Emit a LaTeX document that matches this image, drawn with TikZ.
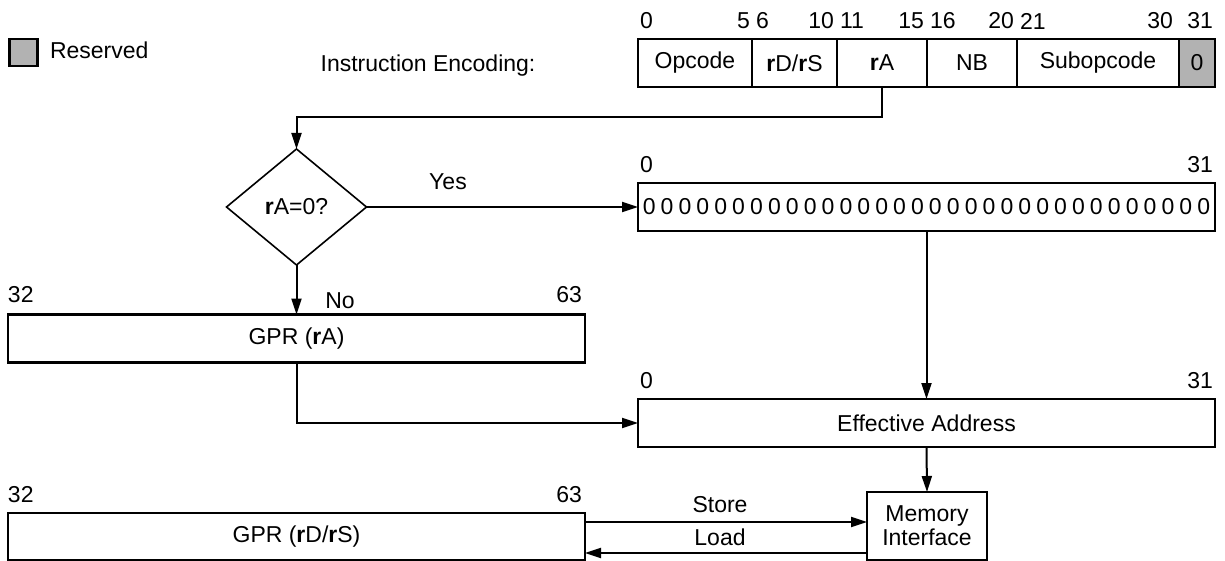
\documentclass[tikz,border=0pt]{standalone}
\usepackage{fontspec}
\setmainfont{Liberation Sans}
\usetikzlibrary{arrows.meta,shapes.geometric,calc}
\definecolor{resgray}{gray}{0.7}
\newcommand\zerodig{0\hspace{5.1pt}}
\tikzset{
  base/.style={font=\fontsize{23}{24}\selectfont, inner sep=0pt, outer sep=0pt},
  fieldbox/.style={base, draw, line width=2.2pt, minimum height=48pt},
  regbox/.style={base, draw, line width=2.4pt, minimum height=48pt},
  lbl/.style={base},
  conn/.style={line width=2pt},
  arr/.style={conn, -{Triangle[length=16pt,width=10pt]}},
  decision/.style={base, draw, diamond, line width=1.6pt, minimum width=140pt, minimum height=116pt},
}
\begin{document}
\begin{tikzpicture}[x=1pt,y=-1pt]
\useasboundingbox (0,0) rectangle (1225,561);
% legend
\node[base, draw, fill=resgray, line width=2.2pt, minimum width=28pt, minimum height=27pt] (resbox) at (23.5,52.5) {};
\node[lbl, anchor=west] (restxt) at (50,50) {Reserved};
\node[lbl] (enctxt) at (428,66) {Instruction Encoding:};
% encoding fields
\node[fieldbox, minimum width=114pt] (fOp) at (695,63) {Opcode};
\node[fieldbox, minimum width=85pt] (fD) at (794.5,63) {\textbf{r}D/\textbf{r}S};
\node[fieldbox, minimum width=90pt] (fA) at (882,63) {\textbf{r}A};
\node[fieldbox, minimum width=90pt] (fNB) at (972,63) {NB};
\node[fieldbox, minimum width=162pt] (fSub) at (1098,63) {Subopcode};
\node[fieldbox, fill=resgray, minimum width=36pt] (fRes) at (1197,63) {0};
% bit labels
\node[lbl, anchor=west] (b0) at (640,21) {0};
\node[lbl, anchor=east] (b5) at (750,21) {5};
\node[lbl, anchor=west] (b6) at (756,21) {6};
\node[lbl, anchor=east] (b10) at (834,21) {10};
\node[lbl, anchor=west] (b11) at (840,21) {11};
\node[lbl, anchor=east] (b15) at (924,21) {15};
\node[lbl, anchor=west] (b16) at (930,21) {16};
\node[lbl, anchor=east] (b20) at (1014,21) {20};
\node[lbl, anchor=west] (b21) at (1020,21) {21};
\node[lbl, anchor=east] (b30) at (1173,21) {30};
\node[lbl, anchor=east] (b31) at (1213,21) {31};
% decision
\node[decision] (dec) at (296.5,207) {\textbf{r}A=0?};
\node[lbl] (yes) at (448,182) {Yes};
\node[lbl] (no) at (340,301) {No};
% zero register
\node[regbox, minimum width=577pt] (zero) at (926.5,207) {\zerodig\zerodig\zerodig\zerodig\zerodig\zerodig\zerodig\zerodig\zerodig\zerodig\zerodig\zerodig\zerodig\zerodig\zerodig\zerodig\zerodig\zerodig\zerodig\zerodig\zerodig\zerodig\zerodig\zerodig\zerodig\zerodig\zerodig\zerodig\zerodig\zerodig\zerodig 0};
\node[lbl, anchor=west] (z0) at (640,165) {0};
\node[lbl, anchor=east] (z31) at (1213,165) {31};
% GPR rA
\node[regbox, minimum width=577pt] (gprA) at (296.5,338.5) {GPR (\textbf{r}A)};
\node[lbl, anchor=west] (a32) at (8,295) {32};
\node[lbl, anchor=east] (a63) at (582,295) {63};
% EA
\node[regbox, minimum width=577pt] (ea) at (926.5,423) {Effective Address};
\node[lbl, anchor=west] (e0) at (640,381) {0};
\node[lbl, anchor=east] (e31) at (1213,381) {31};
% memory interface
\node[regbox, minimum width=120pt, minimum height=68pt, align=center] (mi) at (927,526) {Memory\\Interface};
% GPR rD/rS
\node[regbox, minimum width=577pt, minimum height=47pt] (gprD) at (296.5,536.5) {GPR (\textbf{r}D/\textbf{r}S)};
\node[lbl, anchor=west] (d32) at (8,495) {32};
\node[lbl, anchor=east] (d63) at (582,495) {63};
\node[lbl] (storetxt) at (720,505) {Store};
\node[lbl] (loadtxt) at (720,537) {Load};
% connectors
\draw[arr] (fA.south) -- ++(0,30) -| (dec.north);
\draw[arr] (dec.east) -- (zero.west);
\draw[arr] (dec.south) -- (gprA.north);
\draw[arr] (gprA.south) |- (ea.west);
\draw[arr] (zero.south) -- (ea.north);
\draw[arr] (ea.south) -- (mi.north);
\coordinate (st) at ([yshift=14.5pt]gprD.east);
\coordinate (ld) at ([yshift=-16.5pt]gprD.east);
\draw[arr] (st) -- (st -| mi.west);
\draw[arr] (ld -| mi.west) -- (ld);
\end{tikzpicture}
\end{document}
